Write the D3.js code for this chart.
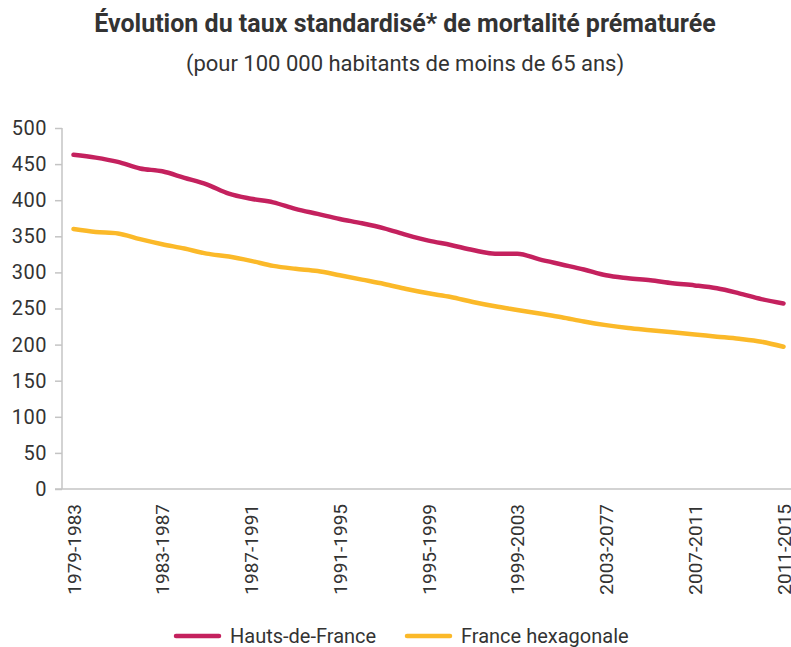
<!DOCTYPE html>
<html>
<head>
<meta charset="utf-8">
<script src="https://cdn.jsdelivr.net/npm/d3@7"></script>
<style>
  body { margin: 0; background: #fff; }
  svg text { font-family: "Roboto", sans-serif; fill: #333; }
</style>
</head>
<body>
<div class="viz"></div>
<script>
// periodes glissantes de 5 ans (libelles tels que dans la source)
const periods = [];
for (let y = 1979; y <= 2011; y++) periods.push(y + "-" + (y + 4));
const tickLabels = ["1979-1983", "1983-1987", "1987-1991", "1991-1995", "1995-1999",
                    "1999-2003", "2003-2077", "2007-2011", "2011-2015"];

const hautsDeFrance = [463, 459, 453, 444, 440, 431, 422, 409, 402, 397, 388, 381, 374, 368, 361,
                       352, 344, 338, 331, 326, 326, 318, 311, 304, 296, 292, 289, 285, 282, 278,
                       271, 263, 257];
const franceHexa = [360, 356, 354, 346, 339, 333, 326, 322, 316, 309, 305, 302, 296, 290, 284,
                    277, 271, 266, 259, 253, 248, 243, 238, 232, 227, 223, 220, 217, 214, 211,
                    208, 204, 197];

const seriesNames = ["Hauts-de-France", "France hexagonale"];
const colors = ["#c4215e", "#fbb929"];

var width = 791, height = 647;
var margin = { top: 128, left: 62, bottom: 158 };

var svg = d3.select('.viz').append('svg')
    .attr('width', width)
    .attr('height', height);

var x = d3.scalePoint()
    .domain(periods)
    .range([73.5, 783.5]);

var y = d3.scaleLinear()
    .domain([0, 500])
    .range([height - margin.bottom, margin.top]);

// titre
svg.append('text')
    .attr('x', 405).attr('y', 32)
    .attr('text-anchor', 'middle')
    .style('font-size', '25px')
    .style('font-weight', 'bold')
    .text('Évolution du taux standardisé* de mortalité prématurée');

svg.append('text')
    .attr('x', 405).attr('y', 71)
    .attr('text-anchor', 'middle')
    .style('font-size', '22px')
    .text('(pour 100 000 habitants de moins de 65 ans)');

// axe y
var yAxis = svg.append('g')
    .attr('transform', 'translate(' + margin.left + ',0)')
    .call(d3.axisLeft(y).tickValues(d3.range(0, 501, 50)).tickSize(7).tickPadding(8));
yAxis.selectAll('text').style('font-size', '20px').style('letter-spacing', '0.5px');
yAxis.selectAll('line, path').attr('stroke', '#c4c4c4').attr('stroke-width', 1.5);
yAxis.select('.domain').attr('d', 'M0,' + y(500) + 'V' + y(0));

// axe x
var xAxis = svg.append('g')
    .attr('transform', 'translate(0,' + y(0) + ')')
    .call(d3.axisBottom(x).tickSize(0).tickValues(periods.filter((d, i) => i % 4 === 0))
        .tickFormat((d, i) => tickLabels[i]));
xAxis.select('.domain').attr('d', 'M55,0H' + width)
    .attr('stroke', '#c4c4c4').attr('stroke-width', 1.5);
xAxis.selectAll('text')
    .style('font-size', '19px')
    .attr('text-anchor', 'end')
    .attr('dy', '0.35em')
    .attr('transform', 'translate(0,15) rotate(-90)')
    .attr('x', 0).attr('y', 0);

// lignes
var line = d3.line()
    .x((d, i) => x(periods[i]))
    .y(d => y(d))
    .curve(d3.curveMonotoneX);

[hautsDeFrance, franceHexa].forEach((s, k) => {
    svg.append('path')
        .datum(s)
        .attr('fill', 'none')
        .attr('stroke', colors[k])
        .attr('stroke-width', 4.5)
        .attr('stroke-linecap', 'round')
        .attr('stroke-linejoin', 'round')
        .attr('d', line);
});

// legende
var legendX = [176, 407];
seriesNames.forEach((n, k) => {
    var g = svg.append('g').attr('transform', 'translate(' + legendX[k] + ',636)');
    g.append('line')
        .attr('x1', 0).attr('x2', 43)
        .attr('stroke', colors[k]).attr('stroke-width', 4.5)
        .attr('stroke-linecap', 'round');
    g.append('text')
        .attr('x', 54).attr('dy', '0.35em')
        .style('font-size', '20px')
        .text(n);
});
</script>
</body>
</html>
